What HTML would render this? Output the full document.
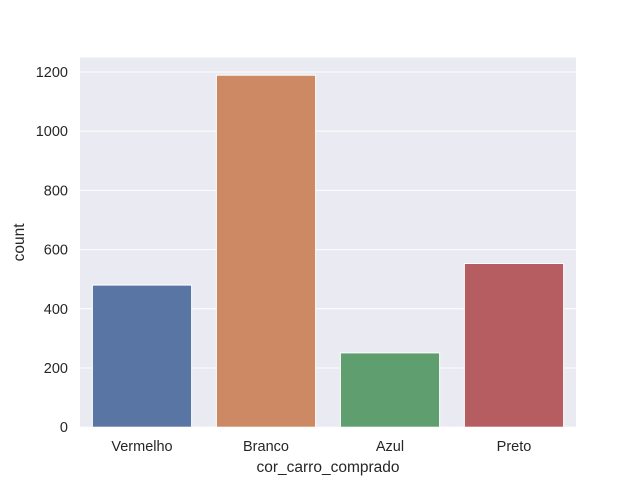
<!DOCTYPE html>
<html><head><meta charset="utf-8"><style>body{margin:0;background:#fff}svg text{font-family:"Liberation Sans",Arial,sans-serif;fill:#262626}</style></head>
<body>
<svg id="c" width="640" height="480" xmlns="http://www.w3.org/2000/svg"></svg>
<script>
const categories=["Vermelho","Branco","Azul","Preto"];
const counts=[480,1189,251,553];
const colors=["#5975a4","#cc8963","#5f9e6e","#b55d60"];
const yTicks=[0,200,400,600,800,1000,1200];
const L=80,R=576,T=57.6,B=427.2,yMax=1248.45;
const y=v=>B-(v/yMax)*(B-T);
const step=(R-L)/categories.length;
const x=i=>L+step*(i+0.5);
const svg=document.getElementById('c');
const NS="http://www.w3.org/2000/svg";
function mk(t,a,p){const e=document.createElementNS(NS,t);for(const k in a)e.setAttribute(k,a[k]);(p||svg).appendChild(e);return e;}
const bg=mk('rect',{x:L,y:T,width:R-L,height:B-T,fill:'#eaeaf2'});


yTicks.forEach(v=>{
 const g=mk('line',{x1:L,x2:R,y1:y(v),y2:y(v),stroke:'#fff','stroke-width':1});
 
 
 const t=mk('text',{x:L-12,y:y(v)+5,'text-anchor':'end','font-size':'14.5px'});
 t.textContent=v;
 
 
});
categories.forEach((c,i)=>{
 const w=step*0.8;
 const b=mk('rect',{x:x(i)-w/2,y:y(counts[i]),width:w,height:B-y(counts[i]),fill:colors[i],stroke:'#fff','stroke-width':1});
 
 
 const t=mk('text',{x:x(i),y:451,'text-anchor':'middle','font-size':'14.5px'});
 t.textContent=c;
 
 
});
const xl=mk('text',{x:(L+R)/2,y:472,'text-anchor':'middle','font-size':'15.5px'});
xl.textContent='cor_carro_comprado';


const yl=mk('text',{x:24,y:(T+B)/2,'text-anchor':'middle','font-size':'15.5px',transform:`rotate(-90 24 ${(T+B)/2})`});
yl.textContent='count';


</script>
</body></html>
